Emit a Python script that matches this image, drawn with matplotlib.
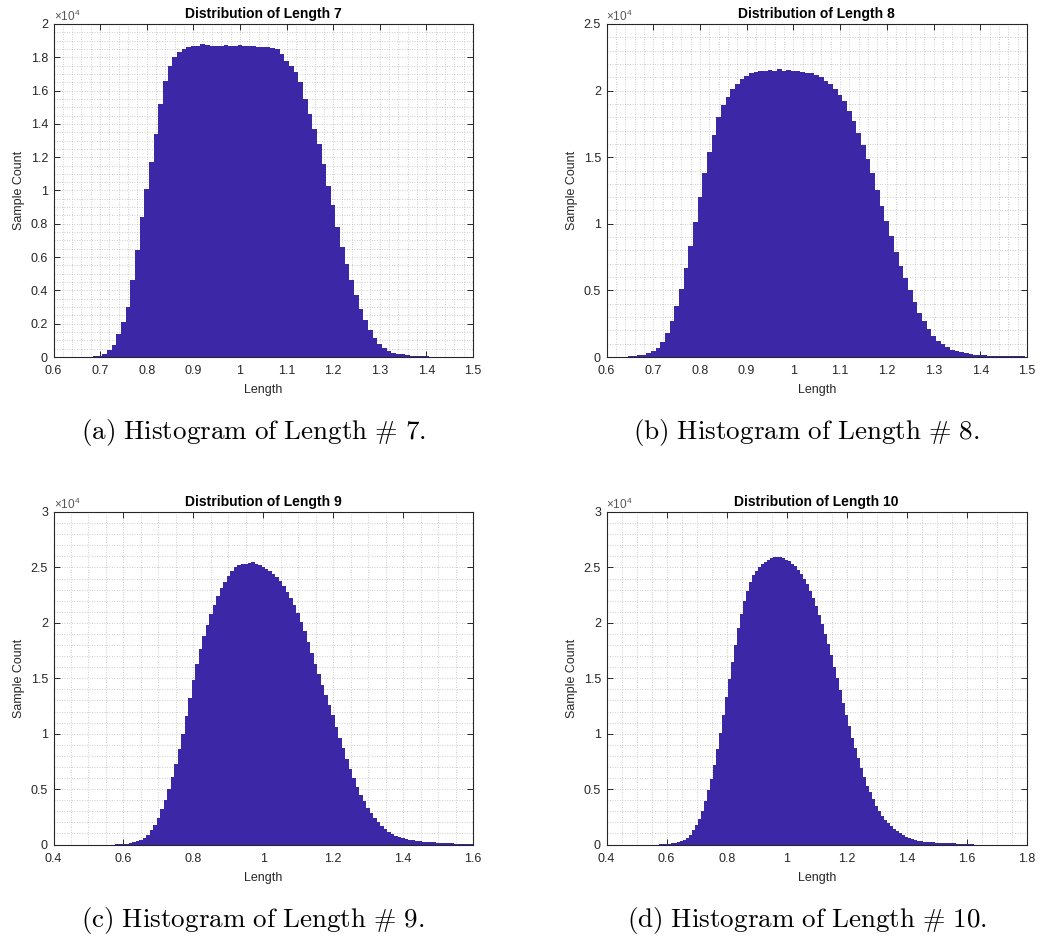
import numpy as np
import matplotlib
matplotlib.use('Agg')
import matplotlib.pyplot as plt
from matplotlib.ticker import MultipleLocator, FuncFormatter

plt.rcParams['font.family'] = ['Liberation Sans', 'DejaVu Sans']

# ---------------- data (counts in units of 1e4, bins of width 0.01) ----------------
BIN_WIDTH = 0.01

len7_first_bin = 0.67
len7_counts = [0.002, 0.003, 0.004, 0.006, 0.018, 0.045, 0.075, 0.14, 0.21, 0.30,
               0.46, 0.64, 0.84, 1.01, 1.17, 1.34, 1.52, 1.66, 1.75, 1.80,
               1.83, 1.85, 1.86, 1.87, 1.87, 1.88, 1.875, 1.87, 1.865, 1.87,
               1.875, 1.87, 1.87, 1.875, 1.87, 1.865, 1.865, 1.86, 1.86, 1.86,
               1.855, 1.85, 1.82, 1.78, 1.75, 1.71, 1.65, 1.55, 1.46, 1.37,
               1.28, 1.16, 1.03, 0.91, 0.78, 0.66, 0.56, 0.46, 0.37, 0.29,
               0.22, 0.16, 0.115, 0.08, 0.055, 0.038, 0.027, 0.02, 0.016, 0.012,
               0.009, 0.007, 0.005, 0.004, 0.003, 0.002]

len8_first_bin = 0.64
len8_counts = [0.003, 0.005, 0.008, 0.012, 0.018, 0.028, 0.042, 0.07, 0.115, 0.18,
               0.27, 0.38, 0.51, 0.67, 0.83, 1.01, 1.20, 1.38, 1.54, 1.67,
               1.80, 1.89, 1.95, 2.01, 2.05, 2.09, 2.11, 2.13, 2.14, 2.15,
               2.15, 2.155, 2.15, 2.16, 2.15, 2.155, 2.15, 2.15, 2.14, 2.135,
               2.13, 2.12, 2.10, 2.075, 2.05, 2.01, 1.97, 1.92, 1.85, 1.77,
               1.68, 1.59, 1.49, 1.38, 1.25, 1.13, 1.02, 0.91, 0.79, 0.68,
               0.59, 0.50, 0.41, 0.33, 0.27, 0.21, 0.16, 0.12, 0.095, 0.073,
               0.056, 0.043, 0.034, 0.027, 0.021, 0.017, 0.014, 0.012, 0.010, 0.009,
               0.008, 0.007, 0.006, 0.005, 0.005, 0.004]

len9_first_bin = 0.58
len9_counts = [0.003, 0.004, 0.006, 0.009, 0.013, 0.02, 0.03, 0.042, 0.062, 0.09,
               0.13, 0.18, 0.24, 0.32, 0.40, 0.50, 0.61, 0.73, 0.86, 1.00,
               1.16, 1.32, 1.48, 1.63, 1.76, 1.88, 1.98, 2.08, 2.16, 2.24,
               2.31, 2.37, 2.42, 2.47, 2.50, 2.52, 2.53, 2.535, 2.54, 2.545,
               2.53, 2.52, 2.505, 2.485, 2.465, 2.44, 2.41, 2.38, 2.33, 2.28,
               2.22, 2.16, 2.09, 2.01, 1.93, 1.83, 1.73, 1.63, 1.54, 1.44,
               1.35, 1.26, 1.17, 1.06, 0.96, 0.87, 0.77, 0.68, 0.60, 0.52,
               0.45, 0.39, 0.33, 0.28, 0.24, 0.20, 0.17, 0.14, 0.115, 0.096,
               0.08, 0.066, 0.057, 0.05, 0.044, 0.039, 0.034, 0.03, 0.027, 0.024,
               0.021, 0.019, 0.017, 0.015, 0.013, 0.012, 0.01, 0.009, 0.008, 0.007,
               0.006, 0.005, 0.004]

len10_first_bin = 0.58
len10_counts = [0.003, 0.004, 0.006, 0.008, 0.011, 0.015, 0.02, 0.03, 0.042, 0.06,
                0.09, 0.13, 0.175, 0.23, 0.30, 0.39, 0.49, 0.59, 0.72, 0.86,
                1.01, 1.17, 1.33, 1.49, 1.65, 1.80, 1.95, 2.08, 2.20, 2.29,
                2.37, 2.43, 2.47, 2.50, 2.53, 2.55, 2.57, 2.585, 2.59, 2.595,
                2.59, 2.585, 2.57, 2.555, 2.53, 2.51, 2.48, 2.44, 2.40, 2.35,
                2.29, 2.22, 2.15, 2.07, 1.99, 1.90, 1.81, 1.71, 1.60, 1.50,
                1.39, 1.28, 1.17, 1.07, 0.96, 0.87, 0.78, 0.69, 0.61, 0.53,
                0.47, 0.41, 0.35, 0.30, 0.26, 0.22, 0.19, 0.165, 0.14, 0.12,
                0.10, 0.083, 0.07, 0.058, 0.048, 0.04, 0.034, 0.03, 0.027, 0.024,
                0.022, 0.02, 0.018, 0.016, 0.015, 0.013, 0.012, 0.011, 0.01, 0.009,
                0.008, 0.007, 0.006, 0.005, 0.004]

titles = ['Distribution of Length 7', 'Distribution of Length 8',
          'Distribution of Length 9', 'Distribution of Length 10']
captions = ['(a) Histogram of Length # 7.', '(b) Histogram of Length # 8.',
            '(c) Histogram of Length # 9.', '(d) Histogram of Length # 10.']
x_label = 'Length'
y_label = 'Sample Count'
y_exponent_label = '×10$^{\\mathregular{4}}$'

xlims = [(0.6, 1.5), (0.6, 1.5), (0.4, 1.6), (0.4, 1.8)]
ylims = [(0, 2.0), (0, 2.5), (0, 3.0), (0, 3.0)]
xmajor = [0.1, 0.1, 0.2, 0.2]
xminor = [0.02, 0.02, 0.05, 0.05]
ymajor = [0.2, 0.5, 0.5, 0.5]
yminor = [0.05, 0.1, 0.1, 0.1]

# ---------------- figure ----------------
W, H = 1041, 938
fig = plt.figure(figsize=(W / 100, H / 100), dpi=100)
fig.patch.set_facecolor('white')

BAR_COLOR = '#3C28A6'
AX_COLOR = '#262626'
GRID_COLOR = '#bdbdbd'

# axes boxes in pixels: (left, top, right, bottom)
boxes = [(53.5, 24, 473, 357), (606.5, 24, 1027, 357),
         (53.5, 512, 473, 844.5), (606.5, 512, 1027, 844.5)]
caption_pos = [(254, 432), (806, 432), (253, 920), (807, 920)]

datasets = [(len7_first_bin, len7_counts), (len8_first_bin, len8_counts),
            (len9_first_bin, len9_counts), (len10_first_bin, len10_counts)]


def fmt(v, pos):
    return '%g' % round(v, 6)


for i in range(4):
    l, t, r, b = boxes[i]
    ax = fig.add_axes([l / W, 1 - b / H, (r - l) / W, (b - t) / H])
    first, counts = datasets[i]
    edges = first - BIN_WIDTH / 2 + BIN_WIDTH * np.arange(len(counts) + 1)
    ax.stairs(counts, edges, fill=True, color=BAR_COLOR, linewidth=0, zorder=2)
    ax.set_xlim(*xlims[i])
    ax.set_ylim(*ylims[i])
    ax.xaxis.set_major_locator(MultipleLocator(xmajor[i]))
    ax.xaxis.set_minor_locator(MultipleLocator(xminor[i]))
    ax.yaxis.set_major_locator(MultipleLocator(ymajor[i]))
    ax.yaxis.set_minor_locator(MultipleLocator(yminor[i]))
    ax.xaxis.set_major_formatter(FuncFormatter(fmt))
    ax.yaxis.set_major_formatter(FuncFormatter(fmt))
    ax.grid(True, which='both', linestyle=(0, (1, 2)), color=GRID_COLOR,
            linewidth=0.6, zorder=0)
    ax.set_axisbelow(True)
    ax.tick_params(which='major', direction='in', length=4, width=0.7,
                   top=True, right=True, labelsize=9, colors=AX_COLOR)
    ax.tick_params(axis='x', which='major', pad=6)
    ax.tick_params(axis='y', which='major', pad=4)
    ax.tick_params(which='minor', length=0, top=True, right=True)
    for s in ax.spines.values():
        s.set_color(AX_COLOR)
        s.set_linewidth(0.8)
    ax.set_title(titles[i], fontsize=10, fontweight='bold', pad=4, color='black')
    ax.set_xlabel(x_label, fontsize=9, color=AX_COLOR, labelpad=5)
    ax.set_ylabel(y_label, fontsize=9, color=AX_COLOR, labelpad=4)
    ax.text(0.0, 1.0, y_exponent_label, transform=ax.transAxes,
            fontsize=8.5, color='#555555', ha='left', va='bottom')

    cx, cy = caption_pos[i]
    cap = captions[i].replace(' ', '\\ ').replace('#', '\\#')
    fig.text(cx / W, 1 - cy / H, '$\\mathrm{' + cap + '}$', math_fontfamily='cm',
             fontsize=19.5, ha='center', va='center', color='black')

fig.savefig('out.png', dpi=100, facecolor='white')
